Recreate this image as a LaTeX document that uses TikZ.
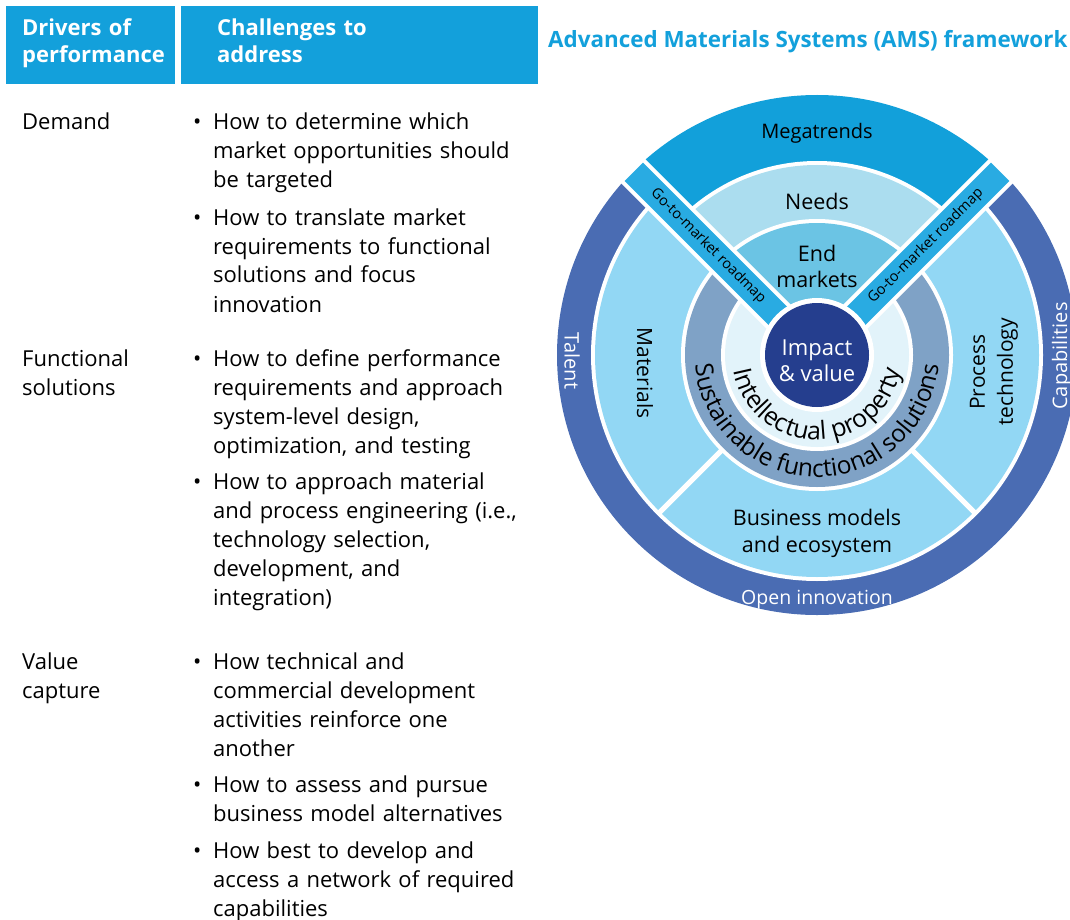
\documentclass[tikz,border=0pt]{standalone}
\usepackage{fontspec}
\setmainfont{Open Sans}
\usetikzlibrary{calc,decorations.text}
\definecolor{hdr}{HTML}{13A0DB}
\definecolor{megac}{HTML}{12A0DA}
\definecolor{stripc}{HTML}{29ABE2}
\definecolor{needsc}{HTML}{ABDDEF}
\definecolor{endc}{HTML}{6BC4E4}
\definecolor{lightc}{HTML}{92D7F4}
\definecolor{outerc}{HTML}{4A6CB3}
\definecolor{sfsc}{HTML}{7FA2C6}
\definecolor{ipc}{HTML}{E2F3FA}
\definecolor{impc}{HTML}{253E8E}
\begin{document}
\begin{tikzpicture}[x=1pt,y=1pt,
  hdrbox/.style={fill=hdr, inner sep=0, anchor=north west},
  hdrtext/.style={text=white, font=\bfseries\fontsize{22}{27}\selectfont, anchor=base west, inner sep=0, text width=200pt, align=left},
  body/.style={font=\fontsize{22}{29}\selectfont, anchor=base west, inner sep=0, text width=340pt, align=left},
  bul/.style={font=\fontsize{22}{29}\selectfont, anchor=base west, inner sep=0},
  lbl/.style={inner sep=0, align=center},
  gtm/.style={inner sep=0, font=\fontsize{14.5}{16}\selectfont}
]
\useasboundingbox (0,0) rectangle (1070,-920);

% ---------- headers ----------
\node[hdrbox, minimum width=169, minimum height=78] (h1) at (6,-6) {};
\node[hdrbox, minimum width=357, minimum height=78] (h2) at (181,-6) {};
\node[hdrtext] (h1t) at (22,-36) {Drivers of\\performance};
\node[hdrtext] (h2t) at (217,-36) {Challenges to\\address};
\node[inner sep=0, anchor=base west, text=hdr, font=\bfseries\fontsize{22.4}{27}\selectfont] (title) at (548,-48) {Advanced Materials Systems (AMS) framework};

% ---------- left column ----------
\node[body] (d) at (22,-130) {Demand};
\node[body] (f) at (22,-366) {Functional\\solutions};
\node[body] (v) at (22,-669) {Value\\capture};

\node[bul] (b1) at (193,-130) {•};
\node[body] (p1) at (213,-130) {How to determine which\\market opportunities should\\be targeted};
\node[bul] (b2) at (193,-225) {•};
\node[body] (p2) at (213,-225) {How to translate market\\requirements to functional\\solutions and focus\\innovation};
\node[bul] (b3) at (193,-366) {•};
\node[body] (p3) at (213,-366) {How to define performance\\requirements and approach\\system-level design,\\optimization, and testing};
\node[bul] (b4) at (193,-489) {•};
\node[body] (p4) at (213,-489) {How to approach material\\and process engineering (i.e.,\\technology selection,\\development, and\\integration)};
\node[bul] (b5) at (193,-669) {•};
\node[body] (p5) at (213,-669) {How technical and\\commercial development\\activities reinforce one\\another};
\node[bul] (b6) at (193,-792) {•};
\node[body] (p6) at (213,-792) {How to assess and pursue\\business model alternatives};
\node[bul] (b7) at (193,-858) {•};
\node[body] (p7) at (213,-858) {How best to develop and\\access a network of required\\capabilities};

% ---------- circle ----------
\coordinate (C) at (817,-355);
\begin{scope}
\clip (0,0) rectangle (1070,-920);
\fill[outerc] (C) circle (260);
\fill[white] (C) circle (226);
\fill[lightc] (C) circle (222);
\fill[white] (C) circle (136);
\fill[sfsc] (C) circle (132);
\fill[white] (C) circle (96);
\fill[ipc] (C) circle (92);
\begin{scope}
  \clip (C) -- ++(45:400) -- ++(-565.7,0) -- cycle;
  \fill[white] (C) circle (266);
  \fill[megac] (C) circle (260);
  \fill[white] (C) circle (194);
  \fill[needsc] (C) circle (190);
  \fill[white] (C) circle (136);
  \fill[endc] (C) circle (132);
\end{scope}
\draw[white, line width=5] ($(C)+(225:133)$) -- ($(C)+(225:223)$);
\draw[white, line width=5] ($(C)+(315:133)$) -- ($(C)+(315:223)$);
\draw[white, line width=34] (C) -- ($(C)+(45:268)$);
\draw[white, line width=34] (C) -- ($(C)+(135:268)$);
\draw[stripc, line width=26] (C) -- ($(C)+(45:259)$);
\draw[stripc, line width=26] (C) -- ($(C)+(135:259)$);
\fill[white] (C) circle (57);
\fill[impc] (C) circle (52);

\path[decorate, decoration={text along path, text align=center,
  text={|\fontsize{25}{25}\selectfont|Intellectual property}}]
  ($(C)+(180:85)$) arc[start angle=180, end angle=360, radius=85];
\path[decorate, decoration={text along path, text align=center,
  text={|\fontsize{24.5}{25}\selectfont|Sustainable functional solutions}}]
  ($(C)+(180:122)$) arc[start angle=180, end angle=360, radius=122];

\node[lbl, font=\fontsize{20}{24}\selectfont] (mega) at (817,-133) {Megatrends};
\node[lbl, font=\fontsize{21.5}{26}\selectfont] (needs) at (817,-201) {Needs};
\node[lbl, font=\fontsize{21.5}{26}\selectfont] (endm) at (817,-266) {End\\markets};
\node[lbl, text=white, font=\fontsize{22}{26}\selectfont] (imp) at (817,-361) {Impact\\\& value};
\node[lbl, rotate=-90, font=\fontsize{21}{26}\selectfont] (mat) at (645,-373) {Materials};
\node[lbl, rotate=90, font=\fontsize{21}{28}\selectfont] (proc) at (994,-372) {Process\\technology};
\node[lbl, font=\fontsize{21.5}{27}\selectfont] (bus) at (817,-533) {Business models\\and ecosystem};
\node[lbl, text=white, font=\fontsize{19.5}{22}\selectfont] (open) at (817,-600) {Open innovation};
\node[lbl, text=white, rotate=-90, font=\fontsize{20}{22}\selectfont] (talent) at (572,-361) {Talent};
\node[lbl, text=white, rotate=90, font=\fontsize{20}{22}\selectfont] (cap) at (1062,-356) {Capabilities};
\node[gtm, rotate=-45] (gtm1) at ($(C)+(135:154)$) {Go-to-market roadmap};
\node[gtm, rotate=45] (gtm2) at ($(C)+(45:154)$) {Go-to-market roadmap};
\end{scope}
\end{tikzpicture}
\end{document}
